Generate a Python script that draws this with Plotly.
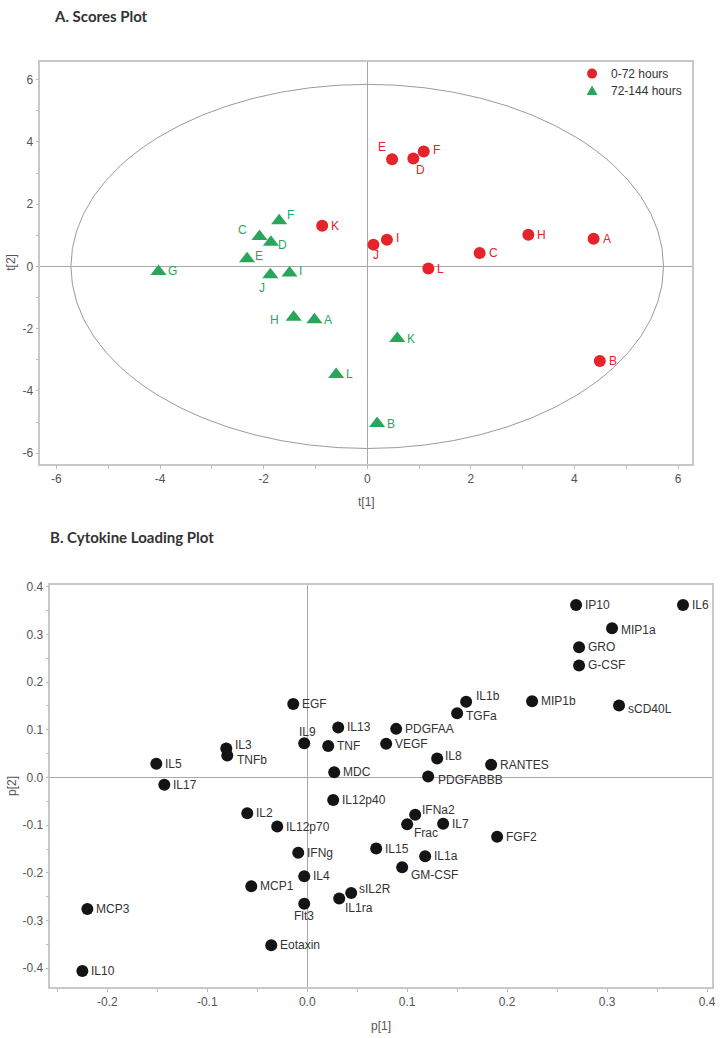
import plotly.graph_objects as go

# ---------- Scores plot data ----------
early_labels = ["A", "B", "C", "D", "E", "F", "H", "I", "J", "K", "L"]
early_t1 = [4.37, 4.49, 2.17, 0.89, 0.48, 1.09, 3.11, 0.38, 0.12, -0.87, 1.18]
early_t2 = [0.89, -3.04, 0.43, 3.47, 3.44, 3.69, 1.02, 0.86, 0.70, 1.31, -0.07]

late_labels = ["A", "B", "C", "D", "E", "F", "G", "H", "I", "J", "K", "L"]
late_t1 = [-1.02, 0.19, -2.08, -1.86, -2.32, -1.70, -4.03, -1.42, -1.50, -1.87, 0.58, -0.60]
late_t2 = [-1.71, -5.05, 0.96, 0.78, 0.25, 1.47, -0.16, -1.63, -0.21, -0.27, -2.32, -3.47]

series_names = ["0-72 hours", "72-144 hours"]

ellipse_a = 5.72
ellipse_b = 5.85

# ---------- Loading plot data ----------
cytokines = ["EGF", "IL9", "IL3", "TNFb", "IL5", "IL13", "TNF", "MDC", "IL17", "IL12p40",
             "IL2", "IL12p70", "IFNg", "IL4", "MCP1", "Flt3", "MCP3", "Eotaxin", "IL10",
             "IP10", "IL6", "MIP1a", "GRO", "G-CSF", "IL1b", "MIP1b", "sCD40L", "TGFa",
             "PDGFAA", "VEGF", "IL8", "RANTES", "PDGFABBB", "IFNa2", "Frac", "IL7", "FGF2",
             "IL15", "IL1a", "GM-CSF", "sIL2R", "IL1ra"]
p1 = [-0.014, -0.003, -0.081, -0.080, -0.151, 0.031, 0.021, 0.027, -0.143, 0.026,
      -0.060, -0.030, -0.009, -0.003, -0.056, -0.003, -0.220, -0.036, -0.225,
      0.269, 0.376, 0.305, 0.272, 0.272, 0.159, 0.225, 0.312, 0.150,
      0.089, 0.079, 0.130, 0.184, 0.121, 0.108, 0.100, 0.136, 0.190,
      0.069, 0.118, 0.095, 0.044, 0.032]
p2 = [0.154, 0.072, 0.061, 0.046, 0.029, 0.105, 0.066, 0.011, -0.015, -0.047,
      -0.075, -0.103, -0.158, -0.207, -0.228, -0.265, -0.276, -0.352, -0.406,
      0.362, 0.362, 0.313, 0.273, 0.235, 0.159, 0.160, 0.151, 0.135,
      0.102, 0.071, 0.040, 0.027, 0.002, -0.078, -0.098, -0.097, -0.124,
      -0.149, -0.165, -0.188, -0.242, -0.254]

# ---------- label placement (pixel offsets; style, not data) ----------
early_place = {"D": ("center", 7, -12), "E": ("center", -10, 12), "F": ("left", 7, 2),
               "I": ("left", 7, 2), "J": ("center", 3, -10)}
late_place = {"C": ("center", -17, 7), "D": ("center", 12, -3), "F": ("center", 11, 6),
              "E": ("center", 12, 3), "J": ("center", -8, -13), "H": ("center", -19, -3),
              "I": ("center", 11, 2)}
cyto_place = {"IL9": ("center", 3, 11), "IL3": ("left", 7, 3), "TNFb": ("left", 8, -4),
              "Flt3": ("center", 0, -12), "IL1b": ("left", 8, 6), "TGFa": ("left", 7, -3),
              "sCD40L": ("left", 7, -3), "MIP1a": ("left", 7, -2), "IL8": ("left", 6, 2),
              "PDGFABBB": ("left", 8, -3), "IFNa2": ("left", 5, 5), "Frac": ("left", 5, -9),
              "GM-CSF": ("left", 7, -8), "sIL2R": ("left", 6, 4), "IL1ra": ("left", 4, -9)}

RED = "#e5232a"
GREEN = "#2aa65c"
FONT = "Arial, Liberation Sans, sans-serif"
TITLE_FONT = "Lato, Liberation Sans, sans-serif"
W, H = 720, 1038

fig = go.Figure()

fig.add_trace(go.Scatter(
    x=early_t1, y=early_t2, mode="markers", name=series_names[0], showlegend=False,
    marker=dict(symbol="circle", size=12, color=RED),
    xaxis="x", yaxis="y", cliponaxis=False))
fig.add_trace(go.Scatter(
    x=late_t1, y=late_t2, mode="markers", name=series_names[1], showlegend=False,
    marker=dict(symbol="triangle-up", size=14, color=GREEN),
    xaxis="x", yaxis="y", cliponaxis=False))
fig.add_trace(go.Scatter(
    x=p1, y=p2, mode="markers", showlegend=False,
    marker=dict(symbol="circle", size=12, color="#141414"),
    xaxis="x2", yaxis="y2", cliponaxis=False))

# Hotelling ellipse
fig.add_shape(type="circle", xref="x", yref="y",
              x0=-ellipse_a, x1=ellipse_a, y0=-ellipse_b, y1=ellipse_b,
              line=dict(color="#9a9a9a", width=1), layer="below")


# pixel -> paper helpers (with small compensation for the capture transform)
def px_x(p):
    return ((p + 0.4) / 0.995) / W


def px_y(p):
    return 1 - ((p - 4.3) / 0.9966) / H


def tick_text(vals, fmt):
    return [fmt.format(v).replace("\u2212", "-") for v in vals]


axis_common = dict(showgrid=False, zeroline=True, zerolinecolor="#a8a8a8", zerolinewidth=1,
                   showline=True, linecolor="#c8c8c8", linewidth=1.5, mirror=True,
                   ticks="outside", ticklen=3, tickcolor="#bbbbbb",
                   tickfont=dict(family=FONT, size=12, color="#555555"))

t_ticks = [-6, -4, -2, 0, 2, 4, 6]
p1_ticks = [-0.2, -0.1, 0.0, 0.1, 0.2, 0.3, 0.4]
p2_ticks = [-0.4, -0.3, -0.2, -0.1, 0.0, 0.1, 0.2, 0.3, 0.4]

fig.update_layout(
    width=W, height=H, margin=dict(l=0, r=0, t=0, b=0),
    paper_bgcolor="white", plot_bgcolor="white",
    font=dict(family=FONT),
    showlegend=False,
    xaxis=dict(domain=[px_x(40), px_x(692)], range=[-6.31, 6.27], anchor="y",
               tickvals=t_ticks, ticktext=tick_text(t_ticks, "{:d}"),
               minor=dict(dtick=1, tick0=0, ticks="outside", ticklen=3, tickcolor="#bbbbbb"),
               **axis_common),
    yaxis=dict(domain=[px_y(464), px_y(61)], range=[-6.35, 6.58], anchor="x",
               tickvals=t_ticks, ticktext=tick_text(t_ticks, "{:d}"),
               minor=dict(dtick=1, tick0=0, ticks="outside", ticklen=3, tickcolor="#bbbbbb"),
               **axis_common),
    xaxis2=dict(domain=[px_x(50), min(1.0, px_x(712))], range=[-0.257, 0.405], anchor="y2",
                tickvals=p1_ticks, ticktext=tick_text(p1_ticks, "{:.1f}"),
                minor=dict(dtick=0.05, tick0=0, ticks="outside", ticklen=3, tickcolor="#bbbbbb"),
                **axis_common),
    yaxis2=dict(domain=[px_y(988), px_y(585)], range=[-0.44, 0.404], anchor="x2",
                tickvals=p2_ticks, ticktext=tick_text(p2_ticks, "{:.1f}"),
                minor=dict(dtick=0.05, tick0=0, ticks="outside", ticklen=3, tickcolor="#bbbbbb"),
                **axis_common),
)

# manual legend (symbols as layout shapes, labels as annotations)
lg_x, lg_y1, lg_y2 = 592, 73, 90
fig.add_shape(type="circle", xref="paper", yref="paper",
              x0=px_x(lg_x - 5), x1=px_x(lg_x + 5), y0=px_y(lg_y1 + 5), y1=px_y(lg_y1 - 5),
              fillcolor=RED, line=dict(color=RED, width=0))
fig.add_shape(type="path", xref="paper", yref="paper",
              path=(f"M {px_x(lg_x - 5.5)} {px_y(lg_y2 + 4.5)} L {px_x(lg_x + 5.5)} {px_y(lg_y2 + 4.5)} "
                    f"L {px_x(lg_x)} {px_y(lg_y2 - 5)} Z"),
              fillcolor=GREEN, line=dict(color=GREEN, width=0))

annotations = [
    dict(text="<b>A. Scores Plot</b>", x=px_x(52), y=1.0, xanchor="left", yanchor="top",
         font=dict(family=TITLE_FONT, size=15, color="#333333")),
    dict(text="<b>B. Cytokine Loading Plot</b>", x=px_x(48), y=px_y(537), xanchor="left", yanchor="middle",
         font=dict(family=TITLE_FONT, size=15, color="#333333")),
    dict(text="t[1]", x=px_x(366), y=px_y(502), xanchor="center", yanchor="middle",
         font=dict(family=FONT, size=12, color="#555555")),
    dict(text="t[2]", x=px_x(11), y=px_y(262), xanchor="center", yanchor="middle", textangle=-90,
         font=dict(family=FONT, size=12, color="#555555")),
    dict(text="p[1]", x=px_x(381), y=px_y(1027), xanchor="center", yanchor="middle",
         font=dict(family=FONT, size=12, color="#555555")),
    dict(text="p[2]", x=px_x(11), y=px_y(786), xanchor="center", yanchor="middle", textangle=-90,
         font=dict(family=FONT, size=12, color="#555555")),
    dict(text=series_names[0], x=px_x(609), y=px_y(lg_y1), xanchor="left", yanchor="middle",
         font=dict(family=FONT, size=12, color="#333333")),
    dict(text=series_names[1], x=px_x(609), y=px_y(lg_y2), xanchor="left", yanchor="middle",
         font=dict(family=FONT, size=12, color="#333333")),
]
for a in annotations:
    a.update(xref="paper", yref="paper", showarrow=False)


def add_labels(labels, xs, ys, place, color, xref, yref, default_dx):
    for lab, xv, yv in zip(labels, xs, ys):
        anchor, dx, dy = place.get(lab, ("left", default_dx, 0))
        annotations.append(dict(text=lab, x=xv, y=yv, xref=xref, yref=yref, showarrow=False,
                                xanchor=anchor, yanchor="middle", xshift=dx, yshift=dy,
                                font=dict(family=FONT, size=12, color=color)))


add_labels(early_labels, early_t1, early_t2, early_place, RED, "x", "y", 7)
add_labels(late_labels, late_t1, late_t2, late_place, GREEN, "x", "y", 8)
add_labels(cytokines, p1, p2, cyto_place, "#333333", "x2", "y2", 7)

fig.update_layout(annotations=annotations)

fig.write_html("out.html", config={"displayModeBar": False},
               post_script="document.body.style.margin='0';document.body.style.overflow='hidden';")
